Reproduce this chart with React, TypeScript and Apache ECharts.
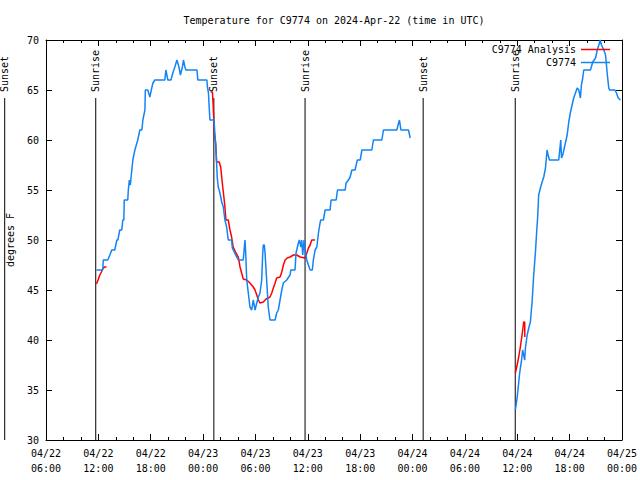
import React, { useEffect, useRef } from 'react';
import * as echarts from 'echarts';

const X_MIN = '2024-04-22 06:00';
const X_MAX = '2024-04-25 00:00';
const Y_MIN = 30;
const Y_MAX = 70;
const Y_STEP = 5;
const X_STEP_HOURS = 6;

const TITLE = 'Temperature for C9774 on 2024-Apr-22 (time in UTC)';
const Y_NAME = 'degrees F';
const OBS_NAME = 'C9774';
const ANA_NAME = 'C9774 Analysis';

const obsTimes = [
  '2024-04-22 11:47', '2024-04-22 12:30', '2024-04-22 12:34', '2024-04-22 13:05', '2024-04-22 13:19',
  '2024-04-22 13:32', '2024-04-22 13:53', '2024-04-22 14:07', '2024-04-22 14:14', '2024-04-22 14:27',
  '2024-04-22 14:41', '2024-04-22 14:48', '2024-04-22 14:55', '2024-04-22 14:58', '2024-04-22 15:22',
  '2024-04-22 15:26', '2024-04-22 15:33', '2024-04-22 15:40', '2024-04-22 15:43', '2024-04-22 15:50',
  '2024-04-22 15:57', '2024-04-22 16:11', '2024-04-22 16:21', '2024-04-22 16:31', '2024-04-22 16:45',
  '2024-04-22 16:59', '2024-04-22 17:06', '2024-04-22 17:20', '2024-04-22 17:23', '2024-04-22 17:40',
  '2024-04-22 17:54', '2024-04-22 18:04', '2024-04-22 18:15', '2024-04-22 18:28', '2024-04-22 19:37',
  '2024-04-22 19:44', '2024-04-22 19:58', '2024-04-22 20:19', '2024-04-22 20:32', '2024-04-22 20:46',
  '2024-04-22 21:00', '2024-04-22 21:14', '2024-04-22 21:24', '2024-04-22 21:38', '2024-04-22 21:45',
  '2024-04-22 21:55', '2024-04-22 22:02', '2024-04-22 23:18', '2024-04-22 23:24', '2024-04-23 00:26',
  '2024-04-23 00:30', '2024-04-23 00:37', '2024-04-23 00:40', '2024-04-23 00:47', '2024-04-23 01:15',
  '2024-04-23 01:21', '2024-04-23 01:28', '2024-04-23 01:33', '2024-04-23 01:37', '2024-04-23 01:44',
  '2024-04-23 01:56', '2024-04-23 02:08', '2024-04-23 02:19', '2024-04-23 02:30', '2024-04-23 02:42',
  '2024-04-23 02:53', '2024-04-23 03:16', '2024-04-23 03:21', '2024-04-23 03:51', '2024-04-23 04:02',
  '2024-04-23 04:36', '2024-04-23 04:48', '2024-04-23 04:53', '2024-04-23 05:00', '2024-04-23 05:11',
  '2024-04-23 05:22', '2024-04-23 05:34', '2024-04-23 05:45', '2024-04-23 05:57', '2024-04-23 06:09',
  '2024-04-23 06:20', '2024-04-23 06:31', '2024-04-23 06:43', '2024-04-23 06:50', '2024-04-23 06:54',
  '2024-04-23 07:01', '2024-04-23 07:06', '2024-04-23 07:17', '2024-04-23 07:28', '2024-04-23 07:40',
  '2024-04-23 08:15', '2024-04-23 08:26', '2024-04-23 08:37', '2024-04-23 08:49', '2024-04-23 09:01',
  '2024-04-23 09:12', '2024-04-23 09:35', '2024-04-23 09:58', '2024-04-23 10:03', '2024-04-23 10:32',
  '2024-04-23 10:39', '2024-04-23 10:55', '2024-04-23 11:02', '2024-04-23 11:12', '2024-04-23 11:18',
  '2024-04-23 11:25', '2024-04-23 11:34', '2024-04-23 11:41', '2024-04-23 11:53', '2024-04-23 12:04',
  '2024-04-23 12:16', '2024-04-23 12:31', '2024-04-23 12:38', '2024-04-23 12:50', '2024-04-23 13:02',
  '2024-04-23 13:13', '2024-04-23 13:24', '2024-04-23 13:29', '2024-04-23 13:47', '2024-04-23 13:59',
  '2024-04-23 14:33', '2024-04-23 14:40', '2024-04-23 15:15', '2024-04-23 15:24', '2024-04-23 16:17',
  '2024-04-23 16:23', '2024-04-23 16:39', '2024-04-23 16:51', '2024-04-23 17:03', '2024-04-23 17:25',
  '2024-04-23 17:37', '2024-04-23 17:41', '2024-04-23 18:00', '2024-04-23 18:12', '2024-04-23 19:20',
  '2024-04-23 19:31', '2024-04-23 20:29', '2024-04-23 20:40', '2024-04-23 22:12', '2024-04-23 22:24',
  '2024-04-23 22:30', '2024-04-23 22:40', '2024-04-23 23:32', '2024-04-23 23:44',
  '2024-04-24 06:00',
  '2024-04-24 11:47', '2024-04-24 11:59', '2024-04-24 12:06', '2024-04-24 12:15', '2024-04-24 12:21',
  '2024-04-24 12:28', '2024-04-24 12:37', '2024-04-24 12:51', '2024-04-24 12:56', '2024-04-24 13:08',
  '2024-04-24 13:19', '2024-04-24 13:30', '2024-04-24 13:42', '2024-04-24 13:53', '2024-04-24 14:05',
  '2024-04-24 14:12', '2024-04-24 14:21', '2024-04-24 14:27', '2024-04-24 14:39', '2024-04-24 14:51',
  '2024-04-24 15:02', '2024-04-24 15:14', '2024-04-24 15:25', '2024-04-24 15:32', '2024-04-24 15:41',
  '2024-04-24 16:45', '2024-04-24 16:52', '2024-04-24 16:59', '2024-04-24 17:04', '2024-04-24 17:13',
  '2024-04-24 17:20', '2024-04-24 17:31', '2024-04-24 17:43', '2024-04-24 17:54', '2024-04-24 18:06',
  '2024-04-24 18:17', '2024-04-24 18:28', '2024-04-24 18:40', '2024-04-24 18:52', '2024-04-24 19:03',
  '2024-04-24 19:14', '2024-04-24 19:21', '2024-04-24 19:30', '2024-04-24 19:37', '2024-04-24 20:23',
  '2024-04-24 20:39', '2024-04-24 20:58', '2024-04-24 21:10', '2024-04-24 21:21', '2024-04-24 21:30',
  '2024-04-24 21:39', '2024-04-24 21:55', '2024-04-24 22:07', '2024-04-24 22:18', '2024-04-24 22:29',
  '2024-04-24 22:34', '2024-04-24 23:11', '2024-04-24 23:22', '2024-04-24 23:34', '2024-04-24 23:50',
];

const obsValues: (number | null)[] = [
  47, 47, 48, 48, 48.5,
  49, 49, 50, 50, 51,
  51, 52, 52, 54, 54,
  55, 56, 55.5, 56, 57,
  58, 59, 59.5, 60, 61,
  61, 62, 63, 65, 65,
  64.3, 65, 65.7, 66, 66,
  67, 66, 66, 66.7, 67.3,
  68, 67.3, 66.5, 67.3, 68,
  67.3, 67, 67, 66, 66,
  65.3, 64.7, 63.8, 62, 62,
  60.7, 59.3, 57.7, 56.3, 55.3,
  54.7, 53.8, 53.3, 52, 51.3,
  50, 50, 49.2, 48.3, 48,
  48, 50, 48.7, 46, 44.7,
  43.3, 43, 44, 43, 43.7,
  44.3, 44.7, 46, 48.7, 49.5,
  49.5, 48.7, 46, 43.3, 42,
  42, 42.7, 43, 44, 45,
  45.7, 46, 46.5, 47, 47,
  48.7, 49.7, 50, 49.3, 50,
  48.5, 50, 49, 48, 47.5,
  47, 47, 48, 49, 49.3,
  50.7, 51.7, 52, 52, 53,
  53, 54, 54, 55, 55,
  55.7, 56, 56.3, 57, 57,
  57.8, 58, 58, 59, 59,
  60, 60, 61, 61, 61.7,
  62, 61, 61, 60.2,
  null,
  33, 34.2, 35.2, 36.5, 37.2,
  37.8, 39, 38, 39.2, 40.5,
  41.2, 41.8, 43.8, 46.5, 48.8,
  50.5, 52.5, 54.5, 55.2, 55.8,
  56.3, 57.2, 59, 58.5, 58,
  58, 59, 60, 58.2, 58.5,
  59, 59.7, 60.5, 61.8, 62.8,
  63.5, 64.2, 64.7, 65.2, 65,
  64.2, 65.5, 66.2, 67, 67,
  67.8, 68.2, 69, 69.5, 70,
  69.5, 69, 68.5, 66.7, 65.2,
  65, 65, 64.7, 64.2, 64,
];

const anaTimes = [
  '2024-04-22 11:47', '2024-04-22 11:58', '2024-04-22 12:10', '2024-04-22 12:21', '2024-04-22 12:32',
  '2024-04-22 12:44', '2024-04-22 12:56',
  '2024-04-22 18:00',
  '2024-04-23 00:52', '2024-04-23 01:04', '2024-04-23 01:10', '2024-04-23 01:17', '2024-04-23 01:26',
  '2024-04-23 01:33', '2024-04-23 01:51', '2024-04-23 02:01', '2024-04-23 02:08', '2024-04-23 02:15',
  '2024-04-23 02:23', '2024-04-23 02:30', '2024-04-23 02:37', '2024-04-23 02:53', '2024-04-23 03:05',
  '2024-04-23 03:16', '2024-04-23 03:27', '2024-04-23 03:46', '2024-04-23 04:02', '2024-04-23 04:14',
  '2024-04-23 04:25', '2024-04-23 04:36', '2024-04-23 05:00', '2024-04-23 05:22', '2024-04-23 05:45',
  '2024-04-23 05:57', '2024-04-23 06:09', '2024-04-23 06:20', '2024-04-23 06:31', '2024-04-23 06:54',
  '2024-04-23 07:13', '2024-04-23 07:40', '2024-04-23 07:52', '2024-04-23 08:03', '2024-04-23 08:15',
  '2024-04-23 08:26', '2024-04-23 08:49', '2024-04-23 09:01', '2024-04-23 09:12', '2024-04-23 09:24',
  '2024-04-23 09:39', '2024-04-23 09:58', '2024-04-23 10:21', '2024-04-23 10:44', '2024-04-23 11:07',
  '2024-04-23 11:41', '2024-04-23 11:53', '2024-04-23 12:04', '2024-04-23 12:16', '2024-04-23 12:27',
  '2024-04-23 12:50',
  '2024-04-24 06:00',
  '2024-04-24 11:47', '2024-04-24 11:59', '2024-04-24 12:10', '2024-04-24 12:21', '2024-04-24 12:33',
  '2024-04-24 12:44', '2024-04-24 12:51', '2024-04-24 12:52',
];

const anaValues: (number | null)[] = [
  45.6, 46, 46.5, 46.8, 47.2,
  47.3, 47.3,
  null,
  64.8, 64.8, 63.3, 60.7, 59.7,
  57.8, 57.8, 57.3, 56.3, 55.3,
  54.3, 53.3, 52, 52, 51,
  50.3, 49.3, 48.7, 48.3, 47.3,
  46.7, 46.1, 46, 45.7, 45.3,
  45, 44.5, 44, 43.7, 43.8,
  44.1, 44.3, 44.7, 45.2, 45.7,
  46.2, 46.3, 46.8, 47.5, 48,
  48.2, 48.3, 48.5, 48.5, 48.3,
  48.2, 48.7, 49.2, 49.5, 50,
  50,
  null,
  36.7, 37.5, 38.3, 39.3, 40.5,
  41.8, 41.8, 40.3,
];

const sunTimes = [
  '2024-04-22 01:16', '2024-04-22 11:42', '2024-04-23 01:14',
  '2024-04-23 11:41', '2024-04-24 01:13', '2024-04-24 11:46',
];
const sunLabels = ['Sunset', 'Sunrise', 'Sunset', 'Sunrise', 'Sunset', 'Sunrise'];
const SUN_LINE_TOP = 64.2;
const SUN_LABEL_START = 64.8;

const FONT = 'DejaVu Sans Mono';
const OBS_COLOR = '#1384f5';
const ANA_COLOR = '#ff0000';

const toMs = (s: string) => Date.parse(s.replace(' ', 'T') + ':00Z');
const pad = (n: number) => (n < 10 ? '0' + n : '' + n);

export default function App() {
  const ref = useRef<HTMLDivElement>(null);

  useEffect(() => {
    if (!ref.current) return;
    const chart = echarts.init(ref.current, undefined, { renderer: 'svg' });

    const obsData = obsTimes.map((t, i) => [toMs(t), obsValues[i] == null ? NaN : obsValues[i]]);
    const anaData = anaTimes.map((t, i) => [toMs(t), anaValues[i] == null ? NaN : anaValues[i]]);
    const sunData = sunTimes.map((t, i) => [toMs(t), Y_MIN, i]);

    const xMin = toMs(X_MIN);
    const xMax = toMs(X_MAX);
    const xStep = X_STEP_HOURS * 3600 * 1000;

    const xFormatter = (v: number) => {
      const d = new Date(v);
      return `${pad(d.getUTCMonth() + 1)}/${pad(d.getUTCDate())}\n${pad(d.getUTCHours())}:${pad(d.getUTCMinutes())}`;
    };

    const axisCommon = {
      axisLine: { show: true, lineStyle: { color: '#000', width: 1 } },
      axisTick: { show: true, inside: true, length: 6, lineStyle: { color: '#000', width: 1 } },
      splitLine: { show: false },
    };

    chart.setOption({
      animation: false,
      backgroundColor: '#fff',
      grid: {
        left: 46,
        right: 18,
        top: 40,
        bottom: 40,
        containLabel: false,
        outerBoundsMode: 'none',
      },
      graphic: [
        {
          type: 'text',
          x: 334,
          y: 20,
          style: {
            text: TITLE,
            fill: '#000',
            font: `10px "${FONT}"`,
            align: 'center',
            verticalAlign: 'middle',
          },
        },
      ],
      legend: {
        orient: 'vertical',
        right: 30,
        top: 43,
        align: 'right',
        padding: 0,
        itemGap: 0,
        itemWidth: 29,
        itemHeight: 1.5,
        icon: 'rect',
        textStyle: { fontFamily: FONT, fontSize: 10, color: '#000', lineHeight: 13 },
        data: [ANA_NAME, OBS_NAME],
      },
      xAxis: [
        {
          type: 'value',
          position: 'bottom',
          min: xMin,
          max: xMax,
          interval: xStep,
          ...axisCommon,
          minorTick: { show: true, splitNumber: 3, length: 3, lineStyle: { color: '#000', width: 1 } },
          axisLabel: {
            formatter: xFormatter,
            color: '#000',
            fontFamily: FONT,
            fontSize: 10,
            lineHeight: 15,
            margin: 6,
            showMinLabel: true,
            showMaxLabel: true,
          },
        },
        {
          type: 'value',
          position: 'top',
          min: xMin,
          max: xMax,
          interval: xStep,
          ...axisCommon,
          minorTick: { show: true, splitNumber: 3, length: 3, lineStyle: { color: '#000', width: 1 } },
          axisLabel: { show: false },
        },
      ],
      yAxis: [
        {
          type: 'value',
          position: 'left',
          min: Y_MIN,
          max: Y_MAX,
          interval: Y_STEP,
          ...axisCommon,
          name: Y_NAME,
          nameLocation: 'middle',
          nameRotate: 90,
          nameGap: 31,
          nameTextStyle: { fontFamily: FONT, fontSize: 10, color: '#000' },
          axisLabel: { color: '#000', fontFamily: FONT, fontSize: 10, margin: 7 },
        },
        {
          type: 'value',
          position: 'right',
          min: Y_MIN,
          max: Y_MAX,
          interval: Y_STEP,
          ...axisCommon,
          axisLabel: { show: false },
        },
      ],
      series: [
        {
          type: 'custom',
          name: 'sun',
          xAxisIndex: 0,
          yAxisIndex: 0,
          clip: false,
          silent: true,
          data: sunData,
          encode: { x: 0, y: 1 },
          renderItem: (params: any, api: any) => {
            const t = api.value(0);
            const idx = api.value(2);
            const top = api.coord([t, SUN_LINE_TOP]);
            const bottom = api.coord([t, Y_MIN]);
            const lab = api.coord([t, SUN_LABEL_START]);
            return {
              type: 'group',
              children: [
                {
                  type: 'line',
                  shape: { x1: top[0], y1: top[1], x2: bottom[0], y2: bottom[1] },
                  style: { stroke: '#000', lineWidth: 1 },
                },
                {
                  type: 'text',
                  x: lab[0],
                  y: lab[1],
                  rotation: Math.PI / 2,
                  style: {
                    text: sunLabels[idx],
                    fill: '#000',
                    font: `10px "${FONT}"`,
                    align: 'left',
                    verticalAlign: 'middle',
                  },
                },
              ],
            };
          },
        },
        {
          type: 'line',
          name: ANA_NAME,
          data: anaData,
          showSymbol: false,
          connectNulls: false,
          color: ANA_COLOR,
          lineStyle: { color: ANA_COLOR, width: 1.5 },
        },
        {
          type: 'line',
          name: OBS_NAME,
          data: obsData,
          showSymbol: false,
          connectNulls: false,
          color: OBS_COLOR,
          lineStyle: { color: OBS_COLOR, width: 1.5 },
        },
      ],
    });

    return () => chart.dispose();
  }, []);

  return (
    <div
      ref={ref}
      style={{ position: 'absolute', left: 0, top: 0, width: 640, height: 480 }}
    />
  );
}
